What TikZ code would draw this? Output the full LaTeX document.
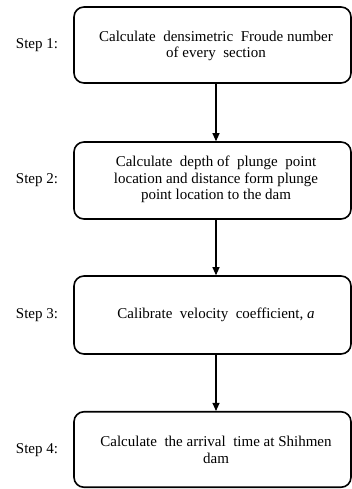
\documentclass[tikz,border=0pt]{standalone}
\usepackage{fontspec}
\setmainfont{Liberation Serif}
\usetikzlibrary{arrows.meta}
\tikzset{
  stepbox/.style={draw=black, line width=1.6pt, rounded corners=10pt, minimum width=277pt, inner sep=0pt},
  boxtext/.style={align=center, font=\fontsize{15}{16.5}\selectfont, inner sep=0pt},
  steplabel/.style={font=\fontsize{15}{16.5}\selectfont, inner sep=0pt},
  flowarrow/.style={line width=1.1pt, -{Triangle[width=7pt,length=8pt]}}
}
\begin{document}
\begin{tikzpicture}[x=1pt,y=-1pt]
\path[use as bounding box] (0,0) rectangle (352,489);
\node[stepbox, minimum height=76pt] (b1) at (212.5,45) {};
\node[stepbox, minimum height=77pt] (b2) at (212.5,180.5) {};
\node[stepbox, minimum height=78pt] (b3) at (212.5,315) {};
\node[stepbox, minimum height=75.5pt] (b4) at (212.5,449.5) {};
\node[boxtext] (t1) at (216,46) {Calculate\ \ densimetric\ \ Froude number\\of every\ \ section};
\node[boxtext] (t2) at (216,179.5) {Calculate\ \ depth of\ \ plunge\ \ point\\location and distance form plunge\\point location to the dam};
\node[boxtext] (t3) at (216,315) {Calibrate\ \ velocity\ \ coefficient,\ \textit{a}};
\node[boxtext] (t4) at (216,450) {Calculate\ \ the arrival\ \ time at Shihmen\\dam};
\node[steplabel] (s1) at (37,45) {Step 1:};
\node[steplabel] (s2) at (37,180) {Step 2:};
\node[steplabel] (s3) at (37,315) {Step 3:};
\node[steplabel] (s4) at (37,450) {Step 4:};
\draw[flowarrow] (t1 |- b1.south) -- (t1 |- b2.north);
\draw[flowarrow] (t1 |- b2.south) -- (t1 |- b3.north);
\draw[flowarrow] (t1 |- b3.south) -- (t1 |- b4.north);
\end{tikzpicture}
\end{document}
